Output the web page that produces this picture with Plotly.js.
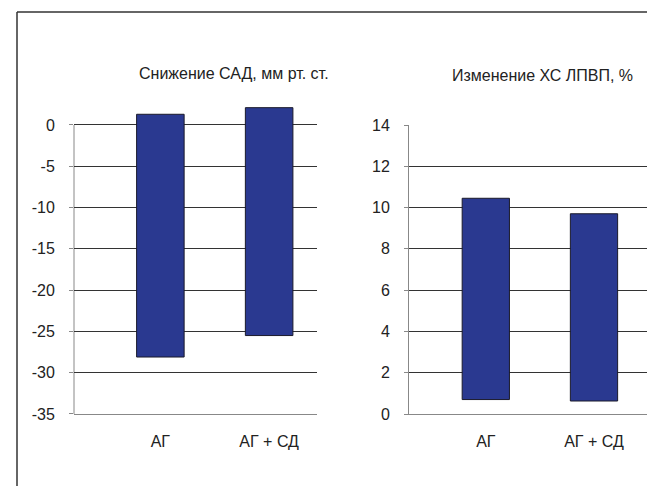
<!DOCTYPE html>
<html>
<head>
<meta charset="utf-8">
<script src="https://cdn.plot.ly/plotly-3.0.1.min.js"></script>
<style>html,body{margin:0;padding:0;background:#fff;}#chart{width:647px;height:486px;}</style>
</head>
<body>
<div id="chart"></div>
<script>
const categories = ["АГ", "АГ + СД"];
const sadTop = [1.3, 2.1];
const sadBottom = [-28.1, -25.5];
const hdlTop = [10.45, 9.7];
const hdlBottom = [0.7, 0.63];
const sadTicks = [0, -5, -10, -15, -20, -25, -30, -35];
const sadTickText = ["0", "-5", "-10", "-15", "-20", "-25", "-30", "-35"];
const hdlTicks = [0, 2, 4, 6, 8, 10, 12, 14];
const hdlTickText = ["0", "2", "4", "6", "8", "10", "12", "14"];
const titleLeft = "Снижение САД, мм рт. ст.";
const titleRight = "Изменение ХС ЛПВП, %";

const W = 647, H = 486;
const px = v => v / W;
const py = v => (H - v) / H;
const barColor = "#2a3990";
const font = {family: "Liberation Sans, Arial, sans-serif", size: 16, color: "#222"};

// left panel: axis drawn to 0, but range extends a bit above so bars are not clipped
const sadPxPerUnit = 289 / 35;
const sadHeadroom = 2.5;
const sadTopPx = 125 - sadHeadroom * sadPxPerUnit;

const traces = [
  {type: "bar", x: categories, y: sadTop.map((t, i) => t - sadBottom[i]), base: sadBottom,
   xaxis: "x", yaxis: "y", width: 0.437,
   marker: {color: barColor, line: {color: "#1a1a2a", width: 1}}, hoverinfo: "skip"},
  {type: "bar", x: categories, y: hdlTop.map((t, i) => t - hdlBottom[i]), base: hdlBottom,
   xaxis: "x2", yaxis: "y2", width: 0.437,
   marker: {color: barColor, line: {color: "#1a1a2a", width: 1}}, hoverinfo: "skip"}
];

const yCommon = {showgrid: true, gridcolor: "#333", gridwidth: 1, zeroline: false,
  showline: true, linecolor: "#888", linewidth: 1, ticks: "outside", ticklen: 4,
  tickcolor: "#888", tickfont: font, ticklabelstandoff: 11, fixedrange: true};
const xCommon = {type: "category", showgrid: false, zeroline: false, showline: true,
  linecolor: "#888", linewidth: 1, ticks: "", tickfont: font, ticklabelstandoff: 13, fixedrange: true};

const layout = {
  width: W, height: H, margin: {l: 0, r: 0, t: 0, b: 0},
  paper_bgcolor: "#fff", plot_bgcolor: "rgba(0,0,0,0)", showlegend: false,
  font: font,
  xaxis: Object.assign({}, xCommon, {domain: [px(74), px(317)], range: [-0.794, 1.44], anchor: "y"}),
  yaxis: Object.assign({}, yCommon, {domain: [py(414), py(sadTopPx)], range: [-35, sadHeadroom],
    tickvals: sadTicks, ticktext: sadTickText, anchor: "x", showline: false}),
  xaxis2: Object.assign({}, xCommon, {domain: [px(409), 1], range: [-0.71, 1.49], anchor: "y2"}),
  yaxis2: Object.assign({}, yCommon, {domain: [py(414), py(125)], range: [0, 14],
    tickvals: hdlTicks, ticktext: hdlTickText, anchor: "x2"}),
  annotations: [
    {text: titleLeft, xref: "paper", yref: "paper", x: px(234.5), y: py(74), showarrow: false,
     xanchor: "center", yanchor: "middle", font: font},
    {text: titleRight, xref: "paper", yref: "paper", x: px(542.5), y: py(75), showarrow: false,
     xanchor: "center", yanchor: "middle", font: font}
  ],
  shapes: [
    {type: "line", xref: "x domain", yref: "y", x0: 0, x1: 0, y0: -35, y1: 0,
     line: {color: "#888", width: 1}, layer: "below"},
    {type: "line", xref: "paper", yref: "paper", x0: px(17), x1: 1, y0: py(12), y1: py(12),
     line: {color: "#333", width: 1.5}},
    {type: "line", xref: "paper", yref: "paper", x0: px(17), x1: px(17), y0: py(12), y1: 0,
     line: {color: "#333", width: 1.5}}
  ]
};

Plotly.newPlot("chart", traces, layout, {staticPlot: true, displayModeBar: false});
</script>
</body>
</html>
